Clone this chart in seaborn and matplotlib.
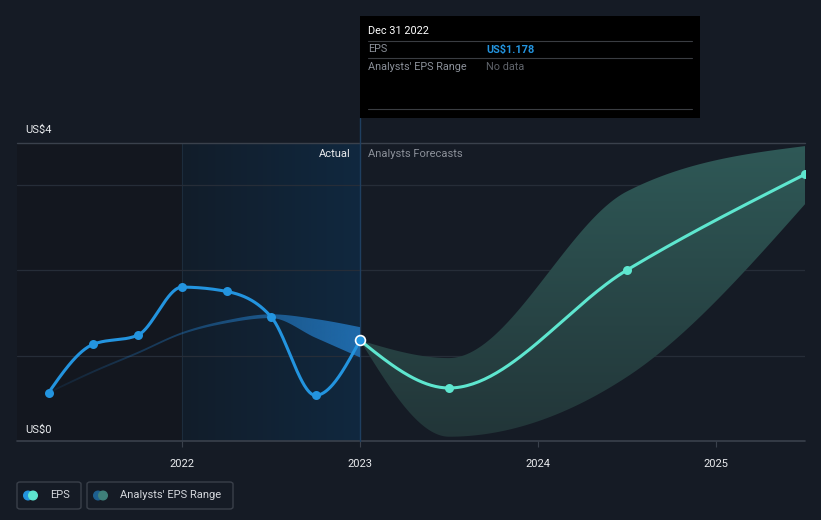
import numpy as np
import pandas as pd
import matplotlib
matplotlib.use("Agg")
import matplotlib.pyplot as plt
import seaborn as sns
from matplotlib.patches import Rectangle, FancyBboxPatch, Ellipse, Polygon
from matplotlib.lines import Line2D
from matplotlib.colors import LinearSegmentedColormap, to_rgb

# ---------------- data ----------------
actual_dates = [2021.25, 2021.5, 2021.75, 2022.0, 2022.25, 2022.5, 2022.75, 2023.0]
actual_eps = [0.565, 1.13, 1.236, 1.80, 1.75, 1.454, 0.534, 1.178]
past_range_low = [0.565, 0.81, 1.03, 1.26, 1.39, 1.45, 1.22, 0.99]
past_range_high = [0.565, 0.81, 1.03, 1.26, 1.40, 1.47, 1.415, 1.32]
forecast_dates = [2023.0, 2023.5, 2024.5, 2025.5]
forecast_eps = [1.178, 0.62, 2.00, 3.12]
forecast_low = [1.178, 0.05, 0.75, 2.77]
forecast_high = [1.178, 0.97, 2.92, 3.45]
year_ticks = [2022, 2023, 2024, 2025]
y_labels = ["US$0", "US$4"]

BG = "#151b25"
BLUE = "#2394df"
TEAL = "#5ee6cf"


def monotone_curve(x, y, per=60):
    x = np.asarray(x, float)
    y = np.asarray(y, float)
    h = np.diff(x)
    s = np.diff(y) / h
    m = np.zeros_like(y)
    for i in range(1, len(y) - 1):
        h0, h1 = h[i - 1], h[i]
        s0, s1 = s[i - 1], s[i]
        p = (s0 * h1 + s1 * h0) / (h0 + h1)
        m[i] = (np.sign(s0) + np.sign(s1)) * min(abs(s0), abs(s1), 0.5 * abs(p))
    m[0] = (3 * s[0] - m[1]) / 2
    m[-1] = (3 * s[-1] - m[-2]) / 2
    xs, ys = [], []
    for i in range(len(h)):
        t = np.linspace(0, 1, per, endpoint=(i == len(h) - 1))
        h00 = 2 * t**3 - 3 * t**2 + 1
        h10 = t**3 - 2 * t**2 + t
        h01 = -2 * t**3 + 3 * t**2
        h11 = t**3 - t**2
        xs.append(x[i] + t * h[i])
        ys.append(h00 * y[i] + h10 * h[i] * m[i] + h01 * y[i + 1] + h11 * h[i] * m[i + 1])
    return np.concatenate(xs), np.concatenate(ys)


sns.set_theme(style="dark")
plt.rcParams["font.family"] = ["Roboto", "DejaVu Sans"]

fig = plt.figure(figsize=(8.21, 5.20), dpi=100, facecolor=BG)
W, H = 821, 520
ax = fig.add_axes([17 / W, 1 - 441 / H, (805 - 17) / W, (441 - 143) / H])
ax.set_facecolor(BG)
for sp in ax.spines.values():
    sp.set_visible(False)

x0, x1 = 2021.073, 2025.5
y0, y1 = 0.0, 3.486
ax.set_xlim(x0, x1)
ax.set_ylim(y0, y1)

# background zones
ax.axvspan(x0, 2022.0, color="#13171f", zorder=0, lw=0)
grad = np.linspace(0, 1, 512).reshape(1, -1)
cm_past = LinearSegmentedColormap.from_list("p", ["#121d2a", "#10283f"])
ax.imshow(grad, extent=[2022.0, 2023.0, y0, y1], aspect="auto", cmap=cm_past, zorder=0.5,
          interpolation="bilinear")
ax.axvline(2022.0, color="#1c2c3c", lw=0.8, zorder=1)

# grid lines
for v in [1, 2, 3]:
    ax.axhline(v, color="#262d38", lw=0.9, zorder=1)
ax.axhline(y1, color="#3a414c", lw=1.0, zorder=1, clip_on=False)
ax.axhline(0, color="#3a414c", lw=1.2, zorder=1, clip_on=False)

# tooltip vertical line
ax.plot([2023.0, 2023.0], [0, (441 - 118) / 85.5], color="#1f3f60", lw=1.0, zorder=1.5,
        clip_on=False)

# ---- forecast range band (vertical gradient, clipped) ----
fx, fl = monotone_curve(forecast_dates, forecast_low)
_, fh = monotone_curve(forecast_dates, forecast_high)
poly = Polygon(np.column_stack([np.r_[fx, fx[::-1]], np.r_[fh, fl[::-1]]]), closed=True,
               facecolor="none", edgecolor="none")
ax.add_patch(poly)
vgrad = np.linspace(1, 0, 256).reshape(-1, 1)
cm_f = LinearSegmentedColormap.from_list("f", ["#223538", "#2f5957"])
im = ax.imshow(vgrad, extent=[2023.0, x1, y0, y1], aspect="auto", cmap=cm_f, zorder=2,
               origin="upper")
im.set_clip_path(poly)

# ---- past range band (horizontal alpha gradient, clipped) ----
px, pl = monotone_curve(actual_dates, past_range_low)
_, ph = monotone_curve(actual_dates, past_range_high)
pl2 = pl - 0.012
ph2 = ph + 0.012
ppoly = Polygon(np.column_stack([np.r_[px, px[::-1]], np.r_[ph2, pl2[::-1]]]), closed=True,
                facecolor="none", edgecolor="none")
ax.add_patch(ppoly)
rgba = np.zeros((1, 512, 4))
rgba[..., :3] = to_rgb("#2171b5")
rgba[..., 3] = np.linspace(0.12, 0.92, 512)
pim = ax.imshow(rgba, extent=[actual_dates[0], actual_dates[-1], y0, y1], aspect="auto",
                zorder=3, interpolation="bilinear")
pim.set_clip_path(ppoly)

# ---- EPS lines ----
ax_x, ax_y = monotone_curve(actual_dates, actual_eps)
df_act = pd.DataFrame({"date": ax_x, "eps": ax_y})
sns.lineplot(data=df_act, x="date", y="eps", ax=ax, color=BLUE, lw=2.2, sort=False,
             estimator=None, zorder=4)
fc_x, fc_y = monotone_curve(forecast_dates, forecast_eps)
df_fc = pd.DataFrame({"date": fc_x, "eps": fc_y})
sns.lineplot(data=df_fc, x="date", y="eps", ax=ax, color=TEAL, lw=2.2, sort=False,
             estimator=None, zorder=4)

sns.scatterplot(x=actual_dates[:-1], y=actual_eps[:-1], ax=ax, color=BLUE, s=42,
                linewidth=0, zorder=5)
sns.scatterplot(x=forecast_dates[1:], y=forecast_eps[1:], ax=ax, color=TEAL, s=42,
                linewidth=0, zorder=5)
sns.scatterplot(x=[actual_dates[-1]], y=[actual_eps[-1]], ax=ax, color=BLUE, s=50,
                edgecolor="white", linewidth=1.2, zorder=6)

# ticks
ax.set_xticks(year_ticks)
ax.set_xticklabels([str(t) for t in year_ticks], color="#e8eaed", fontsize=8)
ax.tick_params(axis="x", length=4, width=0.8, color="#3a414c", pad=9, bottom=True)
ax.set_yticks([])
ax.set_xlabel("")
ax.set_ylabel("")
ax.grid(False)

# y labels
fig.text(25 / W, 1 - 130 / H, y_labels[1], color="#e8eaed", fontsize=8, va="center", ha="left")
fig.text(25 / W, 1 - 430 / H, y_labels[0], color="#e8eaed", fontsize=8, va="center", ha="left")

# Actual / Forecast labels
fig.text(351 / W, 1 - 154 / H, "Actual", color="#e8eaed", fontsize=8, va="center", ha="right")
fig.text(368 / W, 1 - 154 / H, "Analysts Forecasts", color="#8b9099", fontsize=8,
         va="center", ha="left")

# tooltip
fig.patches.append(Rectangle((360 / W, 1 - 118 / H), 340 / W, 102 / H,
                             transform=fig.transFigure, facecolor="#000000",
                             edgecolor="none", zorder=10))
for yy in [41, 58, 109]:
    fig.lines.append(Line2D([368 / W, 692 / W], [1 - yy / H, 1 - yy / H],
                            transform=fig.transFigure, color="#3a3d42", lw=0.8, zorder=11))
fig.text(368 / W, 1 - 31 / H, "Dec 31 2022", color="#ffffff", fontsize=7.8, va="center", zorder=12)
fig.text(368 / W, 1 - 49.5 / H, "EPS", color="#8b9099", fontsize=7.8, va="center", zorder=12)
fig.text(486 / W, 1 - 49.5 / H, "US$1.178", color=BLUE, fontsize=7.8, va="center",
         fontweight="bold", zorder=12)
fig.text(368 / W, 1 - 66.5 / H, "Analysts' EPS Range", color="#8b9099", fontsize=7.8,
         va="center", zorder=12)
fig.text(486 / W, 1 - 66.5 / H, "No data", color="#5f636a", fontsize=7.8, va="center", zorder=12)


# legend
def legbox(xa, xb, c1, c2, label):
    fig.patches.append(FancyBboxPatch((xa / W, 1 - 509 / H), (xb - xa) / W, 27 / H,
                                      boxstyle="round,pad=0,rounding_size=0.004",
                                      transform=fig.transFigure, facecolor="none",
                                      edgecolor="#3a404a", lw=1.0))
    cy = 1 - 495.5 / H
    r = 4.3
    fig.patches.append(Ellipse(((xa + 11) / W, cy), 2 * r / W, 2 * r / H, color=c1,
                               transform=fig.transFigure, zorder=5))
    fig.patches.append(Ellipse(((xa + 16) / W, cy), 2 * r / W, 2 * r / H, color=c2,
                               transform=fig.transFigure, zorder=6))
    fig.text((xa + 33) / W, cy, label, color="#d4d7dc", fontsize=8, va="center", ha="left")


legbox(17, 81, BLUE, TEAL, "EPS")
legbox(87, 233, "#1d5f8f", "#3f807a", "Analysts' EPS Range")

fig.savefig("out.png", dpi=100, facecolor=BG)
